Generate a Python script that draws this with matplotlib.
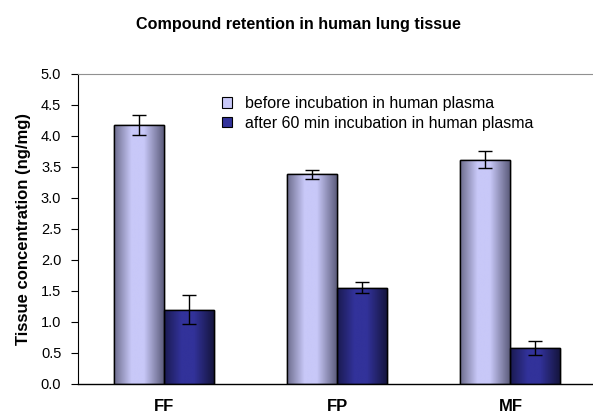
import numpy as np
import matplotlib
matplotlib.use("Agg")
import matplotlib.pyplot as plt
from matplotlib.colors import LinearSegmentedColormap

plt.rcParams["font.family"] = ["Liberation Sans", "DejaVu Sans"]

compounds = ["FF", "FP", "MF"]
before = [4.18, 3.38, 3.62]
before_err = [0.16, 0.07, 0.14]
after = [1.20, 1.55, 0.58]
after_err = [0.24, 0.09, 0.12]
labels = ["before incubation in human plasma",
          "after 60 min incubation in human plasma"]

# cylinder-like shading used by the old spreadsheet chart
light_cmap = LinearSegmentedColormap.from_list(
    "light", [(0, "#6c6c8c"), (0.35, "#c8c8f8"), (0.6, "#c8c8f8"), (1, "#5c5c7c")])
dark_cmap = LinearSegmentedColormap.from_list(
    "dark", [(0, "#1a1a50"), (0.35, "#32329a"), (0.6, "#32329a"), (1, "#15153e")])

fig = plt.figure(figsize=(5.93, 4.15), dpi=100)
ax = fig.add_axes([0.1315, 0.0747, 0.875, 0.747])

x = np.arange(len(compounds))
w = 0.289
grad = np.linspace(0, 1, 256).reshape(1, -1)

b1 = ax.bar(x - w / 2, before, w, color="#c8c8f8", edgecolor="black", linewidth=1.0,
            label=labels[0], zorder=2)
b2 = ax.bar(x + w / 2, after, w, color="#32329a", edgecolor="black", linewidth=1.0,
            label=labels[1], zorder=2)

for bars, cmap in [(b1, light_cmap), (b2, dark_cmap)]:
    for p in bars:
        x0, y0 = p.get_x(), p.get_y()
        im = ax.imshow(grad, cmap=cmap, aspect="auto", zorder=2.5,
                       extent=[x0, x0 + p.get_width(), y0, y0 + p.get_height()])
        im.set_clip_path(p)

# redraw outlines on top of the gradients
for bars in (b1, b2):
    for p in bars:
        ax.add_patch(plt.Rectangle((p.get_x(), p.get_y()), p.get_width(), p.get_height(),
                                   fill=False, edgecolor="black", linewidth=1.0, zorder=3))

ax.errorbar(x - w / 2, before, yerr=before_err, fmt="none", ecolor="black",
            elinewidth=1.0, capsize=5, capthick=1.0, zorder=4)
ax.errorbar(x + w / 2, after, yerr=after_err, fmt="none", ecolor="black",
            elinewidth=1.0, capsize=5, capthick=1.0, zorder=4)

ax.set_xlim(-0.5, 2.5)
ax.set_ylim(0, 5.0)
ax.set_yticks(np.arange(0, 5.01, 0.5))
ax.set_yticklabels([f"{v:.1f}" for v in np.arange(0, 5.01, 0.5)], fontsize=10.5)
ax.set_xticks(x)
ax.set_xticklabels(compounds, fontsize=12, fontweight="bold")
ax.tick_params(axis="x", length=0, pad=11)
ax.tick_params(axis="y", direction="out", length=5, width=0.8, pad=7)

ax.spines["right"].set_visible(False)
ax.spines["top"].set_color("#909090")
ax.spines["left"].set_linewidth(0.8)
ax.spines["bottom"].set_linewidth(1.0)

ax.set_ylabel("Tissue concentration (ng/mg)", fontsize=12, fontweight="bold", labelpad=7)
fig.text(0.503, 0.93, "Compound retention in human lung tissue", ha="center",
         fontsize=11.6, fontweight="bold")

leg = ax.legend(loc="upper left", bbox_to_anchor=(0.25, 0.975), frameon=False,
                fontsize=11.5, handlelength=0.6, handleheight=0.6, handletextpad=0.85,
                labelspacing=0.3)
for h in leg.legend_handles:
    h.set_linewidth(0.8)

fig.savefig("out.png", dpi=100)
